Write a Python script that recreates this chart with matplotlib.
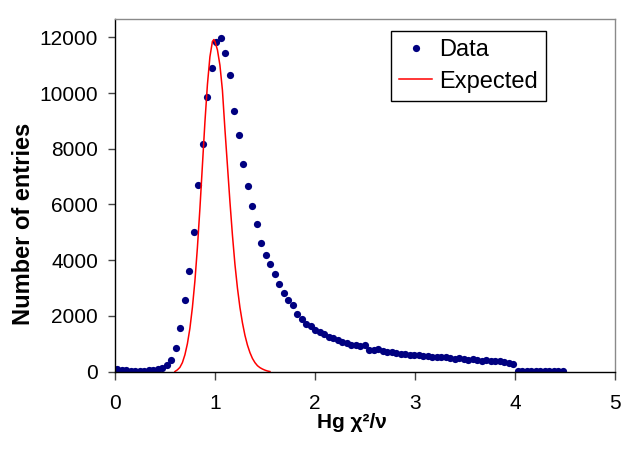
import numpy as np
import matplotlib
matplotlib.use("Agg")
import matplotlib.pyplot as plt

plt.rcParams['font.family'] = ['Liberation Sans', 'DejaVu Sans']

# histogram: 100 bins of width 0.045 from 0 to 4.5
bin_width = 0.045
counts = [
    100, 60, 40, 30, 30, 30, 35, 40, 50, 80,
    130, 220, 420, 840, 1580, 2580, 3620, 5000, 6700, 8180,
    9860, 10910, 11820, 11980, 11440, 10660, 9350, 8510, 7460, 6650,
    5960, 5280, 4610, 4170, 3845, 3496, 3130, 2820, 2576, 2390,
    2073, 1870, 1720, 1620, 1500, 1420, 1340, 1250, 1190, 1130,
    1070, 1010, 970, 950, 920, 960, 760, 780, 810, 750,
    710, 690, 660, 640, 620, 610, 600, 585, 570, 555,
    540, 530, 520, 505, 495, 460, 470, 455, 420, 440,
    410, 395, 400, 390, 380, 370, 350, 320, 270, 20,
    20, 25, 20, 20, 20, 25, 20, 20, 20, 20,
]
bin_centers = bin_width / 2 + bin_width * np.arange(len(counts))

# expected curve
exp_x = [0.600, 0.625, 0.650, 0.675, 0.700, 0.725, 0.750, 0.775, 0.800, 0.825,
         0.850, 0.875, 0.900, 0.925, 0.950, 0.975, 0.990, 1.000, 1.025, 1.050,
         1.075, 1.100, 1.125, 1.150, 1.175, 1.200, 1.225, 1.250, 1.275, 1.300,
         1.325, 1.350, 1.375, 1.400, 1.425, 1.450, 1.475, 1.500, 1.525, 1.550]
exp_y = [0, 60, 150, 320, 600, 1000, 1550, 2300, 3250, 4450,
         5850, 7400, 8950, 10300, 11300, 11850, 11920, 11850, 11550, 11000,
         10100, 8700, 7400, 6100, 4900, 3850, 3000, 2300, 1750, 1300,
         950, 680, 470, 320, 210, 140, 90, 50, 20, 0]

fig = plt.figure(figsize=(6.31, 4.57), dpi=100)
ax = fig.add_axes([0.182, 0.187, 0.793, 0.771])

ax.plot(bin_centers, counts, 'o', color='#000080', markersize=5.2,
        markeredgewidth=0, label='Data')
ax.plot(exp_x, exp_y, '-', color='#ff0000', linewidth=1.1, label='Expected')

ax.set_xlim(0, 5)
ax.set_ylim(0, 12650)
ax.set_xticks([0, 1, 2, 3, 4, 5])
ax.set_yticks([0, 2000, 4000, 6000, 8000, 10000, 12000])

ax.tick_params(axis='x', direction='out', length=6, width=1, color='#444444',
               labelsize=15, pad=10)
ax.tick_params(axis='y', direction='out', length=5, width=1, color='#444444',
               labelsize=15, pad=7)

for side in ['left', 'bottom']:
    ax.spines[side].set_color('black')
    ax.spines[side].set_linewidth(1)
for side in ['top', 'right']:
    ax.spines[side].set_color('#8a8a8a')
    ax.spines[side].set_linewidth(1)

ax.set_xlabel('Hg χ²/ν', fontsize=15, fontweight='bold')
ax.xaxis.set_label_coords(0.474, -0.118)
ax.set_ylabel('Number of entries', fontsize=17, fontweight='bold')
ax.yaxis.set_label_coords(-0.16, 0.42)

leg = ax.legend(loc='upper left', bbox_to_anchor=(0.552, 0.967), fontsize=17,
                numpoints=1, frameon=True, fancybox=False, framealpha=1,
                edgecolor='black', borderaxespad=0, borderpad=0.35,
                labelspacing=0.4, handlelength=1.4, handletextpad=0.3)
leg.get_frame().set_linewidth(1)

fig.savefig('out.png', dpi=100)
